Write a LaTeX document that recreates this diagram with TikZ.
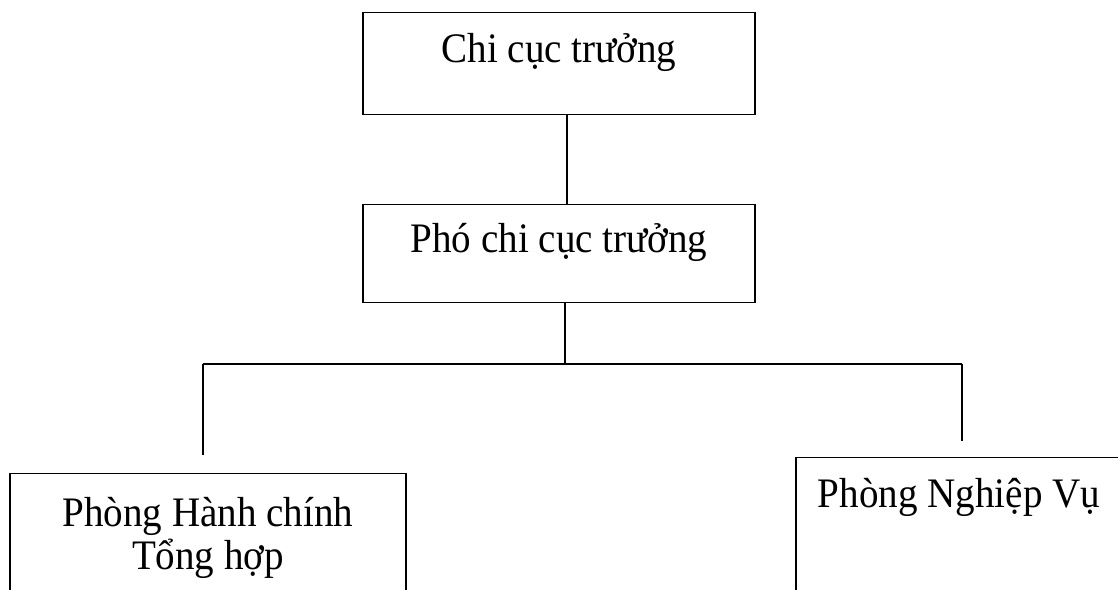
\documentclass[tikz,border=0pt]{standalone}
\usepackage{fontspec}
\setmainfont{Liberation Serif}[FakeStretch=0.93]
\begin{document}
\begin{tikzpicture}[x=1pt,y=-1pt,
  box/.style={draw,line width=1.4pt,inner sep=0pt,anchor=north,
    font=\fontsize{42}{42}\selectfont},
  conn/.style={line width=1.6pt}]
\useasboundingbox (0,0) rectangle (1118,589);
\clip (0,0) rectangle (1118,589);
\node[box,minimum width=392pt,text height=50pt,text depth=52pt] (top) at (559,12) {Chi cục trưởng};
\node[box,minimum width=392pt,text height=48pt,text depth=50pt] (mid) at (559,204) {Phó chi cục trưởng};
\node[box,minimum width=396pt,text height=53pt,text depth=200pt] (left) at (208,473)
  {\begin{tabular}[t]{@{}c@{}}Phòng Hành chính\\Tổng hợp\end{tabular}};
\node[box,minimum width=326pt,text height=50pt,text depth=200pt] (right) at (959,457) {Phòng Nghiệp Vụ};
\coordinate (bl) at (203,364);
\coordinate (br) at (962,364);
\coordinate (el) at (203,455);
\coordinate (er) at (962,441);
\draw[conn] ([xshift=8pt]top.south) -- ([xshift=8pt]mid.north);
\draw[conn] ([xshift=6pt]mid.south) -- ([xshift=6pt]mid.south |- bl);
\draw[conn] (bl) -- (br);
\draw[conn] (bl) -- (el);
\draw[conn] (br) -- (er);
\end{tikzpicture}
\end{document}
